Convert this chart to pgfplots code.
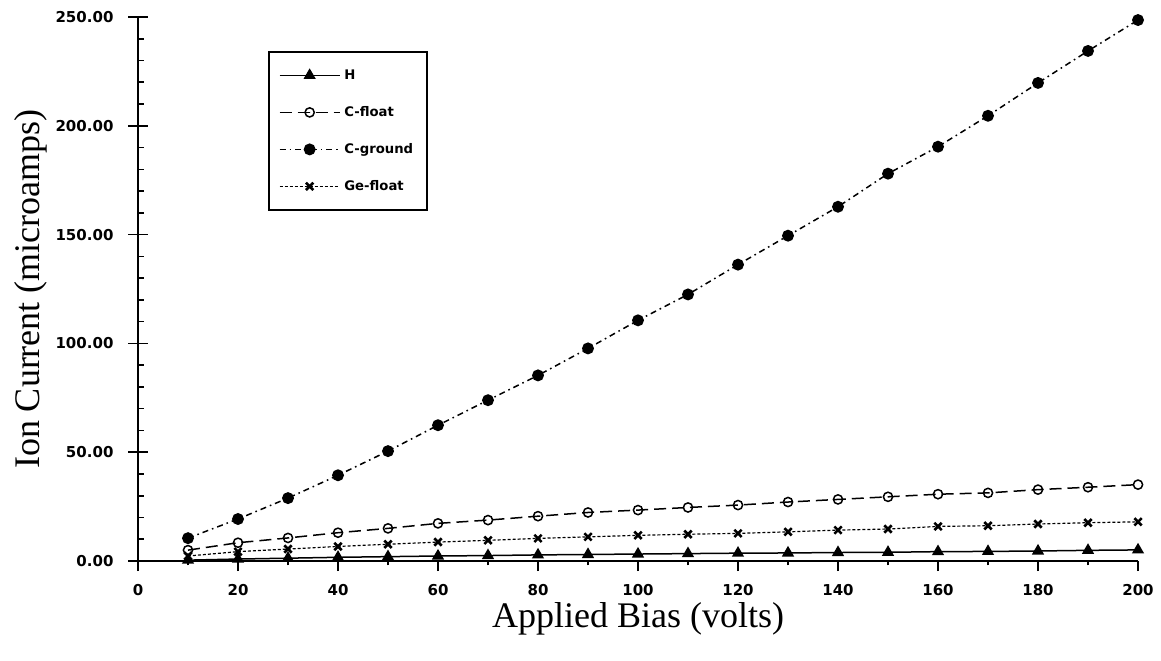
\documentclass[border=0pt]{standalone}
\usepackage{fontspec}
\setmainfont{Liberation Serif}
\newfontfamily\tickfont{DejaVu Sans}
\usepackage{pgfplots}
\pgfplotsset{compat=1.18}

\pgfplotsset{
  base/.style={
    at={(0,0)}, anchor=south west,
    width=500pt, height=272pt, scale only axis,
    xmin=0, xmax=200, ymin=0, ymax=250,
    ticklabel style={font=\tickfont\bfseries\fontsize{7.5}{9}\selectfont},
    /pgf/number format/assume math mode=true,
  }
}

\begin{document}
\begin{tikzpicture}
\useasboundingbox (-69pt,-49.5pt) rectangle (511.5pt,280.5pt);

% x axis: ticks hang below the line
\begin{axis}[base,
  axis lines=left,
  every outer x axis line/.append style={-, line width=0.9pt},
  every outer y axis line/.append style={draw=none},
  xtick={0,20,...,200}, minor x tick num=1,
  ytick=\empty,
  tick align=outside,
  major tick length=5pt, minor tick length=2.2pt,
  every tick/.append style={draw=black, line width=0.8pt},
  xticklabel style={yshift=-3pt},
  xlabel={Applied Bias (volts)},
  xlabel style={font=\fontsize{18}{20}\selectfont,
    at={(axis description cs:0.5,-0.1213)}, anchor=base},
]
\end{axis}

% y axis: major ticks cross the line
\begin{axis}[base,
  axis lines=left,
  every outer x axis line/.append style={draw=none},
  every outer y axis line/.append style={-, line width=0.9pt},
  xtick=\empty,
  ytick={0,50,...,250},
  tick align=center,
  major tick length=9.5pt,
  every tick/.append style={draw=black, line width=0.8pt},
  yticklabel style={xshift=-4pt},
  yticklabel={\pgfmathprintnumber[fixed,fixed zerofill,precision=2]{\tick}},
  ylabel={Ion Current (microamps)},
  ylabel style={font=\fontsize{18}{20}\selectfont,
    at={(axis description cs:-0.098,0.5)}, anchor=base},
]
\end{axis}

% small y ticks, inside only, and the data
\begin{axis}[base,
  clip=false,
  axis lines=left,
  every outer x axis line/.append style={draw=none},
  every outer y axis line/.append style={draw=none},
  xtick=\empty,
  ytick={10,20,30,40,60,70,80,90,110,120,130,140,160,170,180,190,210,220,230,240},
  yticklabels={},
  tick align=inside, major tick length=2.75pt,
  every tick/.append style={draw=black, line width=0.8pt},
  legend style={
    at={(axis description cs:0.13,0.9375)}, anchor=north west,
    draw=black, line width=0.9pt,
    inner xsep=5pt, inner ysep=6pt, row sep=7pt,
    nodes={inner sep=2pt, text height=6pt, text depth=1.5pt},
    font=\tickfont\bfseries\fontsize{6.6}{8}\selectfont,
  },
  legend cell align=left,
  legend image code/.code={
    \draw[mark repeat=2,mark phase=2,#1]
      plot coordinates {(0pt,0pt) (15pt,0pt) (30pt,0pt)};
  },
]

\addplot[black, line width=0.75pt, solid,
  mark=triangle*, mark size=2.8pt, mark options={solid}]
  coordinates {
  (10,0.4) (20,0.9) (30,1.3) (40,1.7) (50,2.0) (60,2.3) (70,2.5)
  (80,2.8) (90,3.0) (100,3.2) (110,3.4) (120,3.6) (130,3.7) (140,3.9)
  (150,4.0) (160,4.3) (170,4.4) (180,4.6) (190,4.9) (200,5.1)
  };
\addlegendentry{H\hspace*{14pt}}

\addplot[black, line width=0.75pt, dash pattern=on 6pt off 3pt,
  mark=o, mark size=2.3pt, mark options={solid, fill=white}]
  coordinates {
  (10,5.0) (20,8.4) (30,10.6) (40,13.0) (50,15.0) (60,17.3) (70,18.8)
  (80,20.6) (90,22.3) (100,23.4) (110,24.6) (120,25.7) (130,27.1)
  (140,28.3) (150,29.5) (160,30.7) (170,31.3) (180,32.8) (190,33.9)
  (200,35.1)
  };
\addlegendentry{C-float}

\addplot[black, line width=0.75pt, dash pattern=on 3pt off 2pt on 0.8pt off 2pt,
  mark=*, mark size=2.6pt, mark options={solid}]
  coordinates {
  (10,10.5) (20,19.3) (30,28.9) (40,39.4) (50,50.5) (60,62.4) (70,73.9)
  (80,85.3) (90,97.7) (100,110.6) (110,122.5) (120,136.2) (130,149.5)
  (140,162.8) (150,178.0) (160,190.4) (170,204.6) (180,219.7)
  (190,234.4) (200,248.6)
  };
\addlegendentry{C-ground}

\addplot[black, line width=0.6pt, dash pattern=on 1.5pt off 1pt,
  mark=x, mark size=2.6pt, mark options={solid, line width=1.3pt}]
  coordinates {
  (10,2.3) (20,4.3) (30,5.5) (40,6.7) (50,7.7) (60,8.7) (70,9.5)
  (80,10.4) (90,11.1) (100,11.8) (110,12.3) (120,12.7) (130,13.4)
  (140,14.2) (150,14.7) (160,15.9) (170,16.2) (180,17.0) (190,17.6)
  (200,18.0)
  };
\addlegendentry{Ge-float}

\end{axis}
\end{tikzpicture}
\end{document}
